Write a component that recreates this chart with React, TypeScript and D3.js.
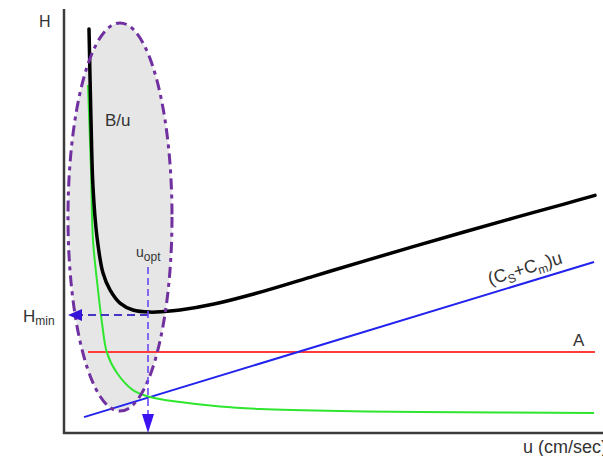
import { useRef, useEffect } from 'react';
import * as d3 from 'd3';

// van Deemter curve (u in arbitrary units, H in arbitrary units)
const uTotal = [0.5, 0.54, 0.58, 0.66, 0.78, 0.92, 1.12, 1.38, 1.72, 2.0, 2.32, 3, 4, 5, 6, 7, 8, 9, 10, 10.62];
const hTotal = [13.47, 10.43, 8.2, 6.53, 5.33, 4.77, 4.33, 4.1, 4.03, 4.05, 4.1, 4.3, 4.73, 5.23, 5.73, 6.22, 6.7, 7.17, 7.63, 7.92];

const uB = [0.48, 0.54, 0.58, 0.68, 0.76, 0.86, 1.06, 1.38, 1.72, 2.32, 3.12, 3.92, 5.52, 7.12, 10.6];
const hB = [11.6, 8.77, 6.43, 4.77, 3.67, 2.67, 2.0, 1.43, 1.2, 1.03, 0.88, 0.8, 0.73, 0.7, 0.67];

const uA = [0.48, 10.62];
const hA = [2.7, 2.7];

const uC = [0.4, 10.6];
const hC = [0.53, 5.7];

const uOpt = 1.68;
const hMin = 3.93;

// highlighted region around the B/u term: center u, center H, radius u, radius H
const region = [1.12, 7.2, 1.04, 6.47];

function VanDeemter() {

    const svgRef = useRef<SVGSVGElement>(null);

    useEffect(() => {
        const width = 603;
        const height = 456;
        const font = '"Liberation Sans", Arial, sans-serif';

        if (!svgRef.current) return;
        const svg = d3.select(svgRef.current)
            .attr("width", width)
            .attr("height", height);

        svg.selectAll("*").remove();

        const x = d3.scaleLinear().domain([0, 10.8]).range([64, 604]);
        const y = d3.scaleLinear().domain([0, 14.1]).range([433, 10]);

        const line = d3.line<[number, number]>()
            .x(d => x(d[0]))
            .y(d => y(d[1]))
            .curve(d3.curveCatmullRom.alpha(0.5));

        const pts = (us: number[], hs: number[]) => us.map((u, i) => [u, hs[i]] as [number, number]);

        //Ellipse fill
        const ecx = x(region[0]), ecy = y(region[1]);
        const erx = x(region[2]) - x(0), ery = y(0) - y(region[3]);
        svg.append("ellipse")
            .attr("cx", ecx).attr("cy", ecy)
            .attr("rx", erx).attr("ry", ery)
            .attr("fill", "#e6e6e6");

        //Axes
        svg.append("line")
            .attr("x1", x(0)).attr("x2", x(0))
            .attr("y1", 9).attr("y2", y(0) + 1)
            .attr("stroke", "#3c3c3c").attr("stroke-width", 2.5);
        svg.append("line")
            .attr("x1", x(0) - 1).attr("x2", width)
            .attr("y1", y(0)).attr("y2", y(0))
            .attr("stroke", "#3c3c3c").attr("stroke-width", 2.5);

        //Terms
        svg.append("path")
            .attr("d", line(pts(uA, hA)))
            .attr("fill", "none").attr("stroke", "#ff3b3b").attr("stroke-width", 2);
        svg.append("path")
            .attr("d", line(pts(uC, hC)))
            .attr("fill", "none").attr("stroke", "#2323ee").attr("stroke-width", 2);
        svg.append("path")
            .attr("d", line(pts(uB, hB)))
            .attr("fill", "none").attr("stroke", "#2ee62e").attr("stroke-width", 2);
        svg.append("path")
            .attr("d", line(pts(uTotal, hTotal)))
            .attr("fill", "none").attr("stroke", "#000").attr("stroke-width", 3.5)
            .attr("stroke-linecap", "round");

        //Ellipse outline
        svg.append("ellipse")
            .attr("cx", ecx).attr("cy", ecy)
            .attr("rx", erx).attr("ry", ery)
            .attr("fill", "none")
            .attr("stroke", "#7030a0").attr("stroke-width", 3)
            .attr("stroke-dasharray", "11,5,4,5");

        //Optimum arrows
        const ox = x(uOpt), oy = y(hMin);
        svg.append("line")
            .attr("x1", ox).attr("x2", x(0) + 14)
            .attr("y1", oy).attr("y2", oy)
            .attr("stroke", "#4536c4").attr("stroke-width", 2)
            .attr("stroke-dasharray", "8,5");
        svg.append("path")
            .attr("d", `M${x(0) + 4},${oy} L${x(0) + 18},${oy - 6} L${x(0) + 18},${oy + 6} Z`)
            .attr("fill", "#3514d8");
        svg.append("line")
            .attr("x1", ox).attr("x2", ox)
            .attr("y1", 267).attr("y2", y(0) - 16)
            .attr("stroke", "#6a48f5").attr("stroke-width", 1.6)
            .attr("stroke-dasharray", "7,4");
        svg.append("path")
            .attr("d", `M${ox},${y(0)} L${ox - 6},${y(0) - 19} L${ox + 6},${y(0) - 19} Z`)
            .attr("fill", "#3d12f0");

        //Labels
        const label = (tx: number, ty: number, size: number) => svg.append("text")
            .attr("x", tx).attr("y", ty)
            .attr("font-family", font)
            .attr("font-size", size)
            .attr("fill", "#333");

        label(39, 27, 16).text("H");

        const hm = label(23, 322, 17);
        hm.append("tspan").text("H");
        hm.append("tspan").attr("font-size", 12).attr("dy", 3).text("min");

        const uo = label(136, 257, 14);
        uo.append("tspan").text("u");
        uo.append("tspan").attr("font-size", 12).attr("dy", 4).text("opt");

        label(105, 126, 17).text("B/u");
        label(573, 346, 17).text("A");

        //Rotated C term label along the blue line
        const ang = Math.atan2(y(hC[1]) - y(hC[0]), x(uC[1]) - x(uC[0])) * 180 / Math.PI;
        const lu = 8.48;
        const lh = hC[0] + (hC[1] - hC[0]) * (lu - uC[0]) / (uC[1] - uC[0]);
        const cl = svg.append("text")
            .attr("transform", `translate(${x(lu) + 2},${y(lh) - 9}) rotate(${ang})`)
            .attr("font-family", font)
            .attr("font-size", 18)
            .attr("fill", "#333");
        cl.append("tspan").text("(C");
        cl.append("tspan").attr("font-size", 12).attr("dy", 4).text("S");
        cl.append("tspan").attr("dy", -4).text("+C");
        cl.append("tspan").attr("font-size", 12).attr("dy", 4).text("m");
        cl.append("tspan").attr("dy", -4).text(")u");

        label(523, 453, 18).text("u (cm/sec)");
    }, []);

    return <svg ref={svgRef} style={{ display: 'block' }} />;
}

export default function App() {
    return (
        <div style={{ position: 'absolute', left: 0, top: 0, width: 603, height: 456, overflow: 'hidden', background: '#fff' }}>
            <VanDeemter />
        </div>
    );
}
